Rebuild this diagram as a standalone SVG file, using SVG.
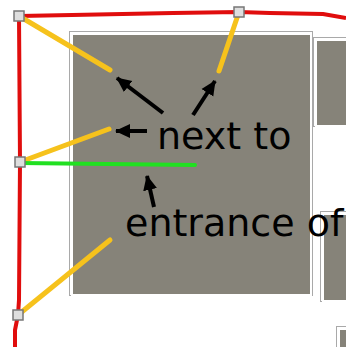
<svg xmlns="http://www.w3.org/2000/svg" width="346" height="347" viewBox="0 0 346 347">
<defs>
<style>
.box{fill:#868379;stroke:#ffffff;stroke-width:2}
.boxo{fill:none;stroke:#a9a9a9;stroke-width:1}
.red{fill:none;stroke:#e00d0d;stroke-width:4;stroke-linejoin:round}
.yel{stroke:#f6c21c;stroke-width:5;stroke-linecap:round}
.grn{stroke:#21e021;stroke-width:4;stroke-linecap:round}
.arr{stroke:#000;stroke-width:4;marker-end:url(#ah)}
.nd{fill:#dedede;stroke:#777;stroke-width:1.5}
.lbl{font-family:"DejaVu Sans",sans-serif;font-size:38px;fill:#000}
</style>
<marker id="ah" markerUnits="userSpaceOnUse" markerWidth="16" markerHeight="16" viewBox="0 0 16 16" refX="14" refY="8" orient="auto">
<path d="M0,1 L15,8 L0,15 Z" fill="#000"/>
</marker>
</defs>
<rect width="346" height="347" fill="#fff"/>
<g id="buildings">
<g id="b-main"><rect class="boxo" x="69.5" y="31.5" width="243" height="264"/><rect class="box" x="72" y="34" width="239" height="261"/></g>
<g id="b-right"><rect class="boxo" x="313.5" y="37.5" width="40" height="89"/><rect class="box" x="316" y="40" width="40" height="86"/></g>
<g id="b-right2"><rect class="boxo" x="320.5" y="211.5" width="40" height="90"/><rect class="box" x="323" y="214" width="40" height="87"/></g>
<g id="b-small"><rect class="boxo" x="336.5" y="326.5" width="20" height="30"/><rect class="box" x="339" y="329" width="20" height="30"/></g>
</g>
<g id="connectors">
<polyline class="red" points="19,16 72,15 173,13 239,12 270,13 323,14 346,18"/>
<polyline class="red" points="19,16 20,162 19,300 18,315 15,330 15,347"/>
<line class="yel" x1="19" y1="16" x2="110" y2="70"/>
<line class="yel" x1="239" y1="12" x2="219" y2="71"/>
<line class="yel" x1="20" y1="162" x2="109" y2="129"/>
<line class="yel" x1="18" y1="315" x2="110" y2="240"/>
<line class="grn" x1="20" y1="163" x2="195" y2="165"/>
<line class="arr" x1="163" y1="113" x2="117" y2="78"/>
<line class="arr" x1="193" y1="115" x2="215" y2="81"/>
<line class="arr" x1="147" y1="131" x2="116" y2="131"/>
<line class="arr" x1="154" y1="207" x2="147" y2="176"/>
</g>
<g id="n1"><rect class="nd" x="14" y="11" width="10" height="10"/></g>
<g id="n2"><rect class="nd" x="234" y="7" width="10" height="10"/></g>
<g id="n3"><rect class="nd" x="15" y="157" width="10" height="10"/></g>
<g id="n4"><rect class="nd" x="13" y="310" width="10" height="10"/></g>
<g id="labels">
<text class="lbl" x="157" y="149">next to</text>
<text class="lbl" x="125" y="236">entrance of</text>
</g>
</svg>
